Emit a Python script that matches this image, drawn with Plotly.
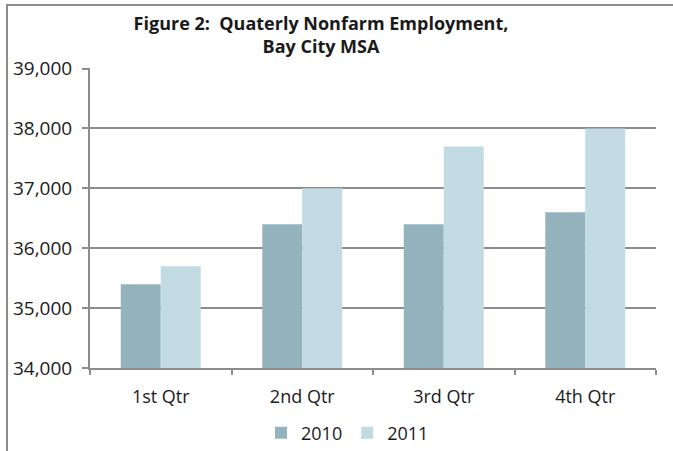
import plotly.graph_objects as go

categories = ["1st Qtr", "2nd Qtr", "3rd Qtr", "4th Qtr"]
values_2010 = [35400, 36400, 36400, 36600]
values_2011 = [35700, 37000, 37700, 38000]
y_ticks = [34000, 35000, 36000, 37000, 38000, 39000]

FONT = "Open Sans"

fig = go.Figure()
fig.add_trace(go.Bar(name="2010", x=categories, y=values_2010,
                     marker=dict(color="#95b3bc", line=dict(width=0))))
fig.add_trace(go.Bar(name="2011", x=categories, y=values_2011,
                     marker=dict(color="#c2dae1", line=dict(width=0))))

W, H = 673, 451
L, R, T, B = 90, 17, 68, 83
pw, ph = W - L - R, H - T - B

fig.update_layout(
    width=W, height=H,
    margin=dict(l=L, r=R, t=T, b=B, autoexpand=False),
    paper_bgcolor="white", plot_bgcolor="white",
    barmode="group", bargap=0.435, bargroupgap=0,
    font=dict(family=FONT, size=18, color="#1a1a1a"),
    title=dict(text="<b>Figure 2:  Quaterly Nonfarm Employment,<br>Bay City MSA</b>",
               x=321 / W, xanchor="center", xref="container",
               y=1 - 30 / H, yanchor="top", yref="container",
               font=dict(family=FONT, size=18, color="#1a1a1a")),
    showlegend=True,
    legend=dict(orientation="h", x=261 / W, xanchor="left", xref="container",
                y=1 - 433 / H, yanchor="middle", yref="container",
                font=dict(family=FONT, size=18), itemwidth=30,
                traceorder="normal", bgcolor="rgba(0,0,0,0)"),
    xaxis=dict(showline=True, linecolor="#8c8c8c", linewidth=2,
               ticks="outside", tickson="boundaries", ticklen=5,
               tickcolor="#8c8c8c", tickwidth=1.5, automargin=False,
               ticklabelstandoff=11,
               tickfont=dict(family=FONT, size=18),
               showgrid=False),
    yaxis=dict(range=[34000, 39010], tickvals=y_ticks, tickformat=",",
               showline=True, linecolor="#8c8c8c", linewidth=2,
               ticks="outside", ticklen=6, tickcolor="#8c8c8c", tickwidth=1.5,
               showgrid=True, gridcolor="#8c8c8c", gridwidth=2,
               zeroline=False, ticklabelstandoff=6, automargin=False,
               tickfont=dict(family=FONT, size=19)),
)

fig.add_shape(type="rect", xref="paper", yref="paper",
              x0=(7 - L) / pw, x1=1.2, y0=-0.5, y1=(H - B - 5) / ph,
              line=dict(color="#8c8c8c", width=2), fillcolor="rgba(0,0,0,0)",
              layer="below")

fig.write_html("out.html", config={"displayModeBar": False},
               post_script="document.body.style.margin='0px';document.body.style.overflow='hidden';")
